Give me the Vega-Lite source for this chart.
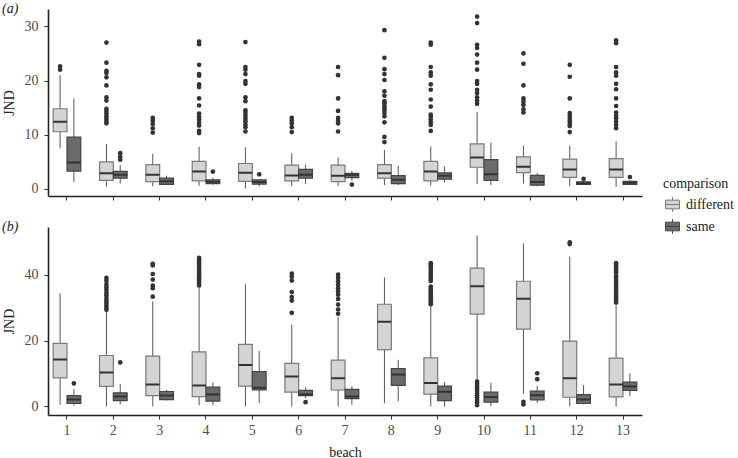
{
  "$schema": "https://vega.github.io/schema/vega-lite/v6.json",
  "padding": {"left": 2, "top": 2, "right": 0, "bottom": 0},
  "config": {
    "font": "Liberation Serif",
    "view": {"stroke": null},
    "axis": {
      "grid": false,
      "domainColor": "#222222",
      "domainWidth": 1.6,
      "tickColor": "#333333",
      "tickSize": 4,
      "labelFont": "Liberation Serif",
      "labelFontSize": 14,
      "labelColor": "#4d4d4d",
      "titleFont": "Liberation Serif",
      "titleFontSize": 14,
      "titleFontWeight": "normal",
      "titleColor": "#222222"
    },
    "legend": {
      "titleFont": "Liberation Serif",
      "titleFontSize": 14,
      "titleFontWeight": "normal",
      "titleColor": "#222222",
      "labelFont": "Liberation Serif",
      "labelFontSize": 14,
      "labelColor": "#222222"
    }
  },
  "datasets": {
    "boxes": [
      {"p":"a","beach":1,"comparison":"different","lo":7.5,"q1":10.55,"med":12.4,"q3":14.8,"hi":21.0},
      {"p":"a","beach":1,"comparison":"same","lo":1.3,"q1":3.3,"med":4.9,"q3":9.57,"hi":16.7},
      {"p":"a","beach":2,"comparison":"different","lo":0.4,"q1":1.6,"med":2.9,"q3":5.0,"hi":8.3},
      {"p":"a","beach":2,"comparison":"same","lo":1.0,"q1":2.0,"med":2.6,"q3":3.25,"hi":4.4},
      {"p":"a","beach":3,"comparison":"different","lo":0.5,"q1":1.35,"med":2.6,"q3":4.5,"hi":6.5},
      {"p":"a","beach":3,"comparison":"same","lo":0.7,"q1":0.86,"med":1.4,"q3":2.0,"hi":2.45},
      {"p":"a","beach":4,"comparison":"different","lo":0.6,"q1":1.5,"med":3.2,"q3":5.1,"hi":7.8},
      {"p":"a","beach":4,"comparison":"same","lo":0.8,"q1":1.0,"med":1.35,"q3":1.7,"hi":2.1},
      {"p":"a","beach":5,"comparison":"different","lo":0.1,"q1":1.4,"med":3.0,"q3":4.7,"hi":7.7},
      {"p":"a","beach":5,"comparison":"same","lo":0.5,"q1":0.9,"med":1.3,"q3":1.7,"hi":1.8},
      {"p":"a","beach":6,"comparison":"different","lo":0.5,"q1":1.5,"med":2.5,"q3":4.4,"hi":6.6},
      {"p":"a","beach":6,"comparison":"same","lo":0.9,"q1":2.0,"med":2.6,"q3":3.6,"hi":4.5},
      {"p":"a","beach":7,"comparison":"different","lo":0.5,"q1":1.35,"med":2.45,"q3":4.4,"hi":5.8},
      {"p":"a","beach":7,"comparison":"same","lo":1.5,"q1":2.1,"med":2.6,"q3":2.9,"hi":3.3},
      {"p":"a","beach":8,"comparison":"different","lo":0.7,"q1":2.0,"med":2.9,"q3":4.5,"hi":7.2},
      {"p":"a","beach":8,"comparison":"same","lo":0.7,"q1":1.0,"med":1.7,"q3":2.45,"hi":4.3},
      {"p":"a","beach":9,"comparison":"different","lo":0.6,"q1":1.5,"med":3.2,"q3":5.1,"hi":7.85},
      {"p":"a","beach":9,"comparison":"same","lo":1.2,"q1":1.8,"med":2.45,"q3":2.95,"hi":4.1},
      {"p":"a","beach":10,"comparison":"different","lo":0.9,"q1":4.0,"med":5.8,"q3":8.3,"hi":14.2},
      {"p":"a","beach":10,"comparison":"same","lo":0.7,"q1":1.6,"med":2.7,"q3":5.4,"hi":8.6},
      {"p":"a","beach":11,"comparison":"different","lo":1.0,"q1":3.0,"med":4.1,"q3":5.9,"hi":8.0},
      {"p":"a","beach":11,"comparison":"same","lo":0.5,"q1":0.7,"med":1.3,"q3":2.5,"hi":2.9},
      {"p":"a","beach":12,"comparison":"different","lo":0.5,"q1":2.15,"med":3.6,"q3":5.5,"hi":8.0},
      {"p":"a","beach":12,"comparison":"same","lo":0.8,"q1":0.86,"med":1.05,"q3":1.3,"hi":1.5},
      {"p":"a","beach":13,"comparison":"different","lo":0.4,"q1":2.15,"med":3.6,"q3":5.6,"hi":8.8},
      {"p":"a","beach":13,"comparison":"same","lo":0.8,"q1":0.86,"med":1.15,"q3":1.4,"hi":1.6},
      {"p":"b","beach":1,"comparison":"different","lo":0.5,"q1":8.7,"med":14.3,"q3":19.2,"hi":34.4},
      {"p":"b","beach":1,"comparison":"same","lo":0.3,"q1":0.9,"med":2.1,"q3":3.3,"hi":5.3},
      {"p":"b","beach":2,"comparison":"different","lo":0.0,"q1":6.1,"med":10.3,"q3":15.5,"hi":29.0},
      {"p":"b","beach":2,"comparison":"same","lo":0.6,"q1":1.8,"med":3.0,"q3":4.15,"hi":6.8},
      {"p":"b","beach":3,"comparison":"different","lo":0.0,"q1":3.3,"med":6.7,"q3":15.3,"hi":32.0},
      {"p":"b","beach":3,"comparison":"same","lo":1.8,"q1":2.1,"med":3.3,"q3":4.55,"hi":5.1},
      {"p":"b","beach":4,"comparison":"different","lo":0.3,"q1":3.0,"med":6.4,"q3":16.6,"hi":36.2},
      {"p":"b","beach":4,"comparison":"same","lo":0.3,"q1":1.6,"med":3.6,"q3":5.9,"hi":7.3},
      {"p":"b","beach":5,"comparison":"different","lo":0.0,"q1":6.2,"med":12.65,"q3":18.9,"hi":37.2},
      {"p":"b","beach":5,"comparison":"same","lo":1.0,"q1":5.0,"med":5.7,"q3":10.6,"hi":16.9},
      {"p":"b","beach":6,"comparison":"different","lo":0.0,"q1":4.35,"med":9.1,"q3":13.1,"hi":24.9},
      {"p":"b","beach":6,"comparison":"same","lo":2.6,"q1":3.3,"med":3.6,"q3":4.9,"hi":5.8},
      {"p":"b","beach":7,"comparison":"different","lo":0.0,"q1":5.0,"med":8.6,"q3":14.1,"hi":27.3},
      {"p":"b","beach":7,"comparison":"same","lo":0.5,"q1":2.4,"med":3.0,"q3":5.2,"hi":6.2},
      {"p":"b","beach":8,"comparison":"different","lo":1.0,"q1":17.3,"med":25.8,"q3":31.1,"hi":39.3},
      {"p":"b","beach":8,"comparison":"same","lo":1.6,"q1":6.4,"med":9.7,"q3":11.5,"hi":14.2},
      {"p":"b","beach":9,"comparison":"different","lo":0.0,"q1":3.75,"med":7.1,"q3":14.8,"hi":30.8},
      {"p":"b","beach":9,"comparison":"same","lo":0.0,"q1":1.8,"med":4.45,"q3":6.2,"hi":7.4},
      {"p":"b","beach":10,"comparison":"different","lo":7.9,"q1":28.1,"med":36.6,"q3":42.1,"hi":52.0},
      {"p":"b","beach":10,"comparison":"same","lo":0.1,"q1":1.3,"med":2.9,"q3":4.35,"hi":7.2},
      {"p":"b","beach":11,"comparison":"different","lo":3.9,"q1":23.5,"med":32.8,"q3":38.1,"hi":49.6},
      {"p":"b","beach":11,"comparison":"same","lo":1.1,"q1":2.0,"med":3.4,"q3":4.65,"hi":6.2},
      {"p":"b","beach":12,"comparison":"different","lo":0.0,"q1":2.8,"med":8.6,"q3":19.9,"hi":45.6},
      {"p":"b","beach":12,"comparison":"same","lo":0.6,"q1":0.9,"med":2.1,"q3":3.6,"hi":6.5},
      {"p":"b","beach":13,"comparison":"different","lo":0.0,"q1":2.9,"med":6.7,"q3":14.7,"hi":30.8},
      {"p":"b","beach":13,"comparison":"same","lo":3.2,"q1":4.9,"med":6.1,"q3":7.4,"hi":10.1}
    ],
    "outliers": [
      {"p":"a","beach":1,"comparison":"different","v":22.6},
      {"p":"a","beach":1,"comparison":"different","v":22.0},
      {"p":"a","beach":2,"comparison":"different","v":27.0},
      {"p":"a","beach":2,"comparison":"different","v":23.3},
      {"p":"a","beach":2,"comparison":"different","v":21.8},
      {"p":"a","beach":2,"comparison":"different","v":21.4},
      {"p":"a","beach":2,"comparison":"different","v":20.6},
      {"p":"a","beach":2,"comparison":"different","v":19.1},
      {"p":"a","beach":2,"comparison":"different","v":16.9},
      {"p":"a","beach":2,"comparison":"different","v":16.3},
      {"p":"a","beach":2,"comparison":"different","v":14.8},
      {"p":"a","beach":2,"comparison":"different","v":14.4},
      {"p":"a","beach":2,"comparison":"different","v":13.9},
      {"p":"a","beach":2,"comparison":"different","v":13.4},
      {"p":"a","beach":2,"comparison":"different","v":13.0},
      {"p":"a","beach":2,"comparison":"different","v":12.5},
      {"p":"a","beach":2,"comparison":"different","v":12.1},
      {"p":"a","beach":2,"comparison":"same","v":6.6},
      {"p":"a","beach":2,"comparison":"same","v":5.9},
      {"p":"a","beach":2,"comparison":"same","v":5.4},
      {"p":"a","beach":3,"comparison":"different","v":13.1},
      {"p":"a","beach":3,"comparison":"different","v":12.6},
      {"p":"a","beach":3,"comparison":"different","v":12.0},
      {"p":"a","beach":3,"comparison":"different","v":11.2},
      {"p":"a","beach":3,"comparison":"different","v":10.4},
      {"p":"a","beach":4,"comparison":"different","v":27.2},
      {"p":"a","beach":4,"comparison":"different","v":26.7},
      {"p":"a","beach":4,"comparison":"different","v":22.9},
      {"p":"a","beach":4,"comparison":"different","v":21.2},
      {"p":"a","beach":4,"comparison":"different","v":20.9},
      {"p":"a","beach":4,"comparison":"different","v":19.3},
      {"p":"a","beach":4,"comparison":"different","v":18.8},
      {"p":"a","beach":4,"comparison":"different","v":16.7},
      {"p":"a","beach":4,"comparison":"different","v":15.4},
      {"p":"a","beach":4,"comparison":"different","v":13.9},
      {"p":"a","beach":4,"comparison":"different","v":13.3},
      {"p":"a","beach":4,"comparison":"different","v":12.8},
      {"p":"a","beach":4,"comparison":"different","v":12.2},
      {"p":"a","beach":4,"comparison":"different","v":11.7},
      {"p":"a","beach":4,"comparison":"different","v":10.7},
      {"p":"a","beach":4,"comparison":"different","v":10.3},
      {"p":"a","beach":4,"comparison":"same","v":3.2},
      {"p":"a","beach":5,"comparison":"different","v":27.1},
      {"p":"a","beach":5,"comparison":"different","v":22.5},
      {"p":"a","beach":5,"comparison":"different","v":22.0},
      {"p":"a","beach":5,"comparison":"different","v":21.2},
      {"p":"a","beach":5,"comparison":"different","v":19.9},
      {"p":"a","beach":5,"comparison":"different","v":19.4},
      {"p":"a","beach":5,"comparison":"different","v":16.9},
      {"p":"a","beach":5,"comparison":"different","v":16.2},
      {"p":"a","beach":5,"comparison":"different","v":14.5},
      {"p":"a","beach":5,"comparison":"different","v":14.0},
      {"p":"a","beach":5,"comparison":"different","v":13.5},
      {"p":"a","beach":5,"comparison":"different","v":13.0},
      {"p":"a","beach":5,"comparison":"different","v":12.5},
      {"p":"a","beach":5,"comparison":"different","v":11.9},
      {"p":"a","beach":5,"comparison":"different","v":11.4},
      {"p":"a","beach":5,"comparison":"different","v":10.6},
      {"p":"a","beach":5,"comparison":"same","v":2.7},
      {"p":"a","beach":6,"comparison":"different","v":13.1},
      {"p":"a","beach":6,"comparison":"different","v":12.6},
      {"p":"a","beach":6,"comparison":"different","v":12.1},
      {"p":"a","beach":6,"comparison":"different","v":11.4},
      {"p":"a","beach":6,"comparison":"different","v":10.5},
      {"p":"a","beach":7,"comparison":"different","v":22.5},
      {"p":"a","beach":7,"comparison":"different","v":21.0},
      {"p":"a","beach":7,"comparison":"different","v":16.7},
      {"p":"a","beach":7,"comparison":"different","v":14.4},
      {"p":"a","beach":7,"comparison":"different","v":13.1},
      {"p":"a","beach":7,"comparison":"different","v":12.6},
      {"p":"a","beach":7,"comparison":"different","v":12.1},
      {"p":"a","beach":7,"comparison":"different","v":10.6},
      {"p":"a","beach":7,"comparison":"same","v":0.8},
      {"p":"a","beach":8,"comparison":"different","v":29.3},
      {"p":"a","beach":8,"comparison":"different","v":24.2},
      {"p":"a","beach":8,"comparison":"different","v":22.1},
      {"p":"a","beach":8,"comparison":"different","v":21.2},
      {"p":"a","beach":8,"comparison":"different","v":20.1},
      {"p":"a","beach":8,"comparison":"different","v":18.0},
      {"p":"a","beach":8,"comparison":"different","v":17.2},
      {"p":"a","beach":8,"comparison":"different","v":16.2},
      {"p":"a","beach":8,"comparison":"different","v":15.8},
      {"p":"a","beach":8,"comparison":"different","v":15.3},
      {"p":"a","beach":8,"comparison":"different","v":15.0},
      {"p":"a","beach":8,"comparison":"different","v":14.5},
      {"p":"a","beach":8,"comparison":"different","v":14.0},
      {"p":"a","beach":8,"comparison":"different","v":13.4},
      {"p":"a","beach":8,"comparison":"different","v":12.3},
      {"p":"a","beach":8,"comparison":"different","v":9.6},
      {"p":"a","beach":8,"comparison":"different","v":8.65},
      {"p":"a","beach":9,"comparison":"different","v":27.0},
      {"p":"a","beach":9,"comparison":"different","v":26.6},
      {"p":"a","beach":9,"comparison":"different","v":22.5},
      {"p":"a","beach":9,"comparison":"different","v":21.5},
      {"p":"a","beach":9,"comparison":"different","v":20.9},
      {"p":"a","beach":9,"comparison":"different","v":19.3},
      {"p":"a","beach":9,"comparison":"different","v":18.3},
      {"p":"a","beach":9,"comparison":"different","v":16.5},
      {"p":"a","beach":9,"comparison":"different","v":15.2},
      {"p":"a","beach":9,"comparison":"different","v":13.7},
      {"p":"a","beach":9,"comparison":"different","v":13.3},
      {"p":"a","beach":9,"comparison":"different","v":12.8},
      {"p":"a","beach":9,"comparison":"different","v":12.3},
      {"p":"a","beach":9,"comparison":"different","v":11.8},
      {"p":"a","beach":9,"comparison":"different","v":10.7},
      {"p":"a","beach":10,"comparison":"different","v":31.8},
      {"p":"a","beach":10,"comparison":"different","v":30.6},
      {"p":"a","beach":10,"comparison":"different","v":26.6},
      {"p":"a","beach":10,"comparison":"different","v":26.0},
      {"p":"a","beach":10,"comparison":"different","v":24.8},
      {"p":"a","beach":10,"comparison":"different","v":23.3},
      {"p":"a","beach":10,"comparison":"different","v":22.0},
      {"p":"a","beach":10,"comparison":"different","v":19.9},
      {"p":"a","beach":10,"comparison":"different","v":19.4},
      {"p":"a","beach":10,"comparison":"different","v":18.3},
      {"p":"a","beach":10,"comparison":"different","v":17.7},
      {"p":"a","beach":10,"comparison":"different","v":16.9},
      {"p":"a","beach":10,"comparison":"different","v":16.3},
      {"p":"a","beach":10,"comparison":"different","v":15.7},
      {"p":"a","beach":11,"comparison":"different","v":25.0},
      {"p":"a","beach":11,"comparison":"different","v":23.1},
      {"p":"a","beach":11,"comparison":"different","v":19.1},
      {"p":"a","beach":11,"comparison":"different","v":16.7},
      {"p":"a","beach":11,"comparison":"different","v":16.1},
      {"p":"a","beach":11,"comparison":"different","v":15.5},
      {"p":"a","beach":11,"comparison":"different","v":14.7},
      {"p":"a","beach":11,"comparison":"different","v":14.1},
      {"p":"a","beach":12,"comparison":"different","v":22.9},
      {"p":"a","beach":12,"comparison":"different","v":20.7},
      {"p":"a","beach":12,"comparison":"different","v":16.7},
      {"p":"a","beach":12,"comparison":"different","v":14.0},
      {"p":"a","beach":12,"comparison":"different","v":13.5},
      {"p":"a","beach":12,"comparison":"different","v":13.0},
      {"p":"a","beach":12,"comparison":"different","v":12.5},
      {"p":"a","beach":12,"comparison":"different","v":12.0},
      {"p":"a","beach":12,"comparison":"different","v":11.6},
      {"p":"a","beach":12,"comparison":"different","v":10.5},
      {"p":"a","beach":12,"comparison":"same","v":1.85},
      {"p":"a","beach":13,"comparison":"different","v":27.4},
      {"p":"a","beach":13,"comparison":"different","v":26.9},
      {"p":"a","beach":13,"comparison":"different","v":22.5},
      {"p":"a","beach":13,"comparison":"different","v":21.5},
      {"p":"a","beach":13,"comparison":"different","v":20.9},
      {"p":"a","beach":13,"comparison":"different","v":19.4},
      {"p":"a","beach":13,"comparison":"different","v":18.4},
      {"p":"a","beach":13,"comparison":"different","v":16.7},
      {"p":"a","beach":13,"comparison":"different","v":15.3},
      {"p":"a","beach":13,"comparison":"different","v":14.1},
      {"p":"a","beach":13,"comparison":"different","v":13.5},
      {"p":"a","beach":13,"comparison":"different","v":13.0},
      {"p":"a","beach":13,"comparison":"different","v":12.4},
      {"p":"a","beach":13,"comparison":"different","v":11.8},
      {"p":"a","beach":13,"comparison":"different","v":11.2},
      {"p":"a","beach":13,"comparison":"same","v":2.2},
      {"p":"b","beach":1,"comparison":"same","v":7.0},
      {"p":"b","beach":2,"comparison":"different","v":39.1},
      {"p":"b","beach":2,"comparison":"different","v":38.2},
      {"p":"b","beach":2,"comparison":"different","v":37.1},
      {"p":"b","beach":2,"comparison":"different","v":36.3},
      {"p":"b","beach":2,"comparison":"different","v":35.5},
      {"p":"b","beach":2,"comparison":"different","v":34.6},
      {"p":"b","beach":2,"comparison":"different","v":33.8},
      {"p":"b","beach":2,"comparison":"different","v":33.0},
      {"p":"b","beach":2,"comparison":"different","v":32.2},
      {"p":"b","beach":2,"comparison":"different","v":31.5},
      {"p":"b","beach":2,"comparison":"different","v":30.7},
      {"p":"b","beach":2,"comparison":"different","v":30.0},
      {"p":"b","beach":2,"comparison":"different","v":29.4},
      {"p":"b","beach":2,"comparison":"same","v":13.4},
      {"p":"b","beach":3,"comparison":"different","v":43.4},
      {"p":"b","beach":3,"comparison":"different","v":42.9},
      {"p":"b","beach":3,"comparison":"different","v":40.3},
      {"p":"b","beach":3,"comparison":"different","v":38.6},
      {"p":"b","beach":3,"comparison":"different","v":36.8},
      {"p":"b","beach":3,"comparison":"different","v":36.0},
      {"p":"b","beach":3,"comparison":"different","v":33.4},
      {"p":"b","beach":4,"comparison":"different","v":45.2},
      {"p":"b","beach":4,"comparison":"different","v":44.6},
      {"p":"b","beach":4,"comparison":"different","v":44.0},
      {"p":"b","beach":4,"comparison":"different","v":43.4},
      {"p":"b","beach":4,"comparison":"different","v":42.8},
      {"p":"b","beach":4,"comparison":"different","v":42.2},
      {"p":"b","beach":4,"comparison":"different","v":41.6},
      {"p":"b","beach":4,"comparison":"different","v":41.0},
      {"p":"b","beach":4,"comparison":"different","v":40.4},
      {"p":"b","beach":4,"comparison":"different","v":39.8},
      {"p":"b","beach":4,"comparison":"different","v":39.2},
      {"p":"b","beach":4,"comparison":"different","v":38.6},
      {"p":"b","beach":4,"comparison":"different","v":38.0},
      {"p":"b","beach":4,"comparison":"different","v":37.4},
      {"p":"b","beach":4,"comparison":"different","v":36.8},
      {"p":"b","beach":6,"comparison":"different","v":40.4},
      {"p":"b","beach":6,"comparison":"different","v":39.5},
      {"p":"b","beach":6,"comparison":"different","v":38.3},
      {"p":"b","beach":6,"comparison":"different","v":34.8},
      {"p":"b","beach":6,"comparison":"different","v":33.3},
      {"p":"b","beach":6,"comparison":"different","v":32.2},
      {"p":"b","beach":6,"comparison":"different","v":28.5},
      {"p":"b","beach":6,"comparison":"same","v":1.3},
      {"p":"b","beach":7,"comparison":"different","v":40.1},
      {"p":"b","beach":7,"comparison":"different","v":39.1},
      {"p":"b","beach":7,"comparison":"different","v":38.1},
      {"p":"b","beach":7,"comparison":"different","v":37.0},
      {"p":"b","beach":7,"comparison":"different","v":36.0},
      {"p":"b","beach":7,"comparison":"different","v":35.0},
      {"p":"b","beach":7,"comparison":"different","v":34.0},
      {"p":"b","beach":7,"comparison":"different","v":32.7},
      {"p":"b","beach":7,"comparison":"different","v":31.0},
      {"p":"b","beach":7,"comparison":"different","v":29.5},
      {"p":"b","beach":7,"comparison":"different","v":28.2},
      {"p":"b","beach":9,"comparison":"different","v":43.6},
      {"p":"b","beach":9,"comparison":"different","v":43.0},
      {"p":"b","beach":9,"comparison":"different","v":42.4},
      {"p":"b","beach":9,"comparison":"different","v":41.8},
      {"p":"b","beach":9,"comparison":"different","v":41.2},
      {"p":"b","beach":9,"comparison":"different","v":40.6},
      {"p":"b","beach":9,"comparison":"different","v":40.0},
      {"p":"b","beach":9,"comparison":"different","v":39.4},
      {"p":"b","beach":9,"comparison":"different","v":38.8},
      {"p":"b","beach":9,"comparison":"different","v":38.2},
      {"p":"b","beach":9,"comparison":"different","v":36.5},
      {"p":"b","beach":9,"comparison":"different","v":35.9},
      {"p":"b","beach":9,"comparison":"different","v":35.3},
      {"p":"b","beach":9,"comparison":"different","v":34.7},
      {"p":"b","beach":9,"comparison":"different","v":34.1},
      {"p":"b","beach":9,"comparison":"different","v":33.5},
      {"p":"b","beach":9,"comparison":"different","v":32.9},
      {"p":"b","beach":9,"comparison":"different","v":32.3},
      {"p":"b","beach":9,"comparison":"different","v":31.7},
      {"p":"b","beach":9,"comparison":"different","v":31.1},
      {"p":"b","beach":10,"comparison":"different","v":7.6},
      {"p":"b","beach":10,"comparison":"different","v":6.9},
      {"p":"b","beach":10,"comparison":"different","v":6.2},
      {"p":"b","beach":10,"comparison":"different","v":5.5},
      {"p":"b","beach":10,"comparison":"different","v":4.8},
      {"p":"b","beach":10,"comparison":"different","v":4.1},
      {"p":"b","beach":10,"comparison":"different","v":3.4},
      {"p":"b","beach":10,"comparison":"different","v":2.7},
      {"p":"b","beach":10,"comparison":"different","v":2.0},
      {"p":"b","beach":10,"comparison":"different","v":1.3},
      {"p":"b","beach":10,"comparison":"different","v":0.4},
      {"p":"b","beach":11,"comparison":"different","v":1.4},
      {"p":"b","beach":11,"comparison":"different","v":0.6},
      {"p":"b","beach":11,"comparison":"same","v":10.1},
      {"p":"b","beach":11,"comparison":"same","v":8.3},
      {"p":"b","beach":12,"comparison":"different","v":49.9},
      {"p":"b","beach":12,"comparison":"different","v":49.4},
      {"p":"b","beach":13,"comparison":"different","v":43.6},
      {"p":"b","beach":13,"comparison":"different","v":43.0},
      {"p":"b","beach":13,"comparison":"different","v":42.4},
      {"p":"b","beach":13,"comparison":"different","v":41.8},
      {"p":"b","beach":13,"comparison":"different","v":41.2},
      {"p":"b","beach":13,"comparison":"different","v":40.6},
      {"p":"b","beach":13,"comparison":"different","v":39.6},
      {"p":"b","beach":13,"comparison":"different","v":38.8},
      {"p":"b","beach":13,"comparison":"different","v":38.2},
      {"p":"b","beach":13,"comparison":"different","v":37.6},
      {"p":"b","beach":13,"comparison":"different","v":37.0},
      {"p":"b","beach":13,"comparison":"different","v":36.4},
      {"p":"b","beach":13,"comparison":"different","v":35.8},
      {"p":"b","beach":13,"comparison":"different","v":35.2},
      {"p":"b","beach":13,"comparison":"different","v":34.6},
      {"p":"b","beach":13,"comparison":"different","v":34.0},
      {"p":"b","beach":13,"comparison":"different","v":33.4},
      {"p":"b","beach":13,"comparison":"different","v":32.8},
      {"p":"b","beach":13,"comparison":"different","v":32.2},
      {"p":"b","beach":13,"comparison":"different","v":31.6}
    ]
  },
  "spacing": 19,
  "resolve": {"scale": {"y": "independent"}},
  "vconcat": [
    {
      "width": 594,
      "height": 187,
      "title": {"text": "(a)", "anchor": "start", "frame": "group", "dx": -46, "offset": -7, "font": "Liberation Serif", "fontSize": 14, "fontStyle": "italic", "fontWeight": "normal", "color": "#222222"},
      "encoding": {
        "x": {"field": "beach", "type": "ordinal", "scale": {"paddingInner": 0.18, "paddingOuter": 0}, "axis": {"labels": false, "title": null, "labelAngle": 0}},
        "xOffset": {"field": "comparison", "type": "nominal", "scale": {"paddingInner": 0, "paddingOuter": 0.377}}
      },
      "layer": [
        {
          "data": {"name": "boxes"},
          "transform": [{"filter": "datum.p === 'a'"}],
          "mark": {"type": "rule", "color": "#555555", "strokeWidth": 1},
          "encoding": {
            "y": {"field": "lo", "type": "quantitative", "scale": {"domain": [-1.3, 33.2], "nice": false, "zero": false}, "axis": {"values": [0, 10, 20, 30], "title": "JND", "labelPadding": 6, "titlePadding": 8}},
            "y2": {"field": "hi"}
          }
        },
        {
          "data": {"name": "boxes"},
          "transform": [{"filter": "datum.p === 'a'"}],
          "mark": {"type": "bar", "strokeWidth": 1.2, "opacity": 1},
          "encoding": {
            "y": {"field": "q1", "type": "quantitative"},
            "y2": {"field": "q3"},
            "fill": {"field": "comparison", "type": "nominal", "scale": {"domain": ["different", "same"], "range": ["#d4d4d4", "#6b6b6b"]}, "legend": {"title": "comparison", "orient": "none", "legendX": 615, "legendY": 168, "symbolType": "M-0.8,-0.5H0.8V0.5H-0.8Z M-0.8,0H0.8 M0,-0.5V-0.85 M0,0.5V0.85", "symbolSize": 300, "symbolStrokeWidth": 1, "rowPadding": 3, "titlePadding": 4}},
            "stroke": {"field": "comparison", "type": "nominal", "scale": {"domain": ["different", "same"], "range": ["#7a7a7a", "#444444"]}, "legend": {"title": "comparison", "orient": "none", "legendX": 615, "legendY": 168, "symbolType": "M-0.8,-0.5H0.8V0.5H-0.8Z M-0.8,0H0.8 M0,-0.5V-0.85 M0,0.5V0.85", "symbolSize": 300, "symbolStrokeWidth": 1, "rowPadding": 3, "titlePadding": 4}}
          }
        },
        {
          "data": {"name": "boxes"},
          "transform": [{"filter": "datum.p === 'a'"}],
          "mark": {"type": "bar", "fill": null, "stroke": "#333333", "strokeWidth": 2},
          "encoding": {
            "y": {"field": "med", "type": "quantitative"},
            "y2": {"field": "med"}
          }
        },
        {
          "data": {"name": "outliers"},
          "transform": [{"filter": "datum.p === 'a'"}],
          "mark": {"type": "point", "filled": true, "color": "#333333", "size": 22, "opacity": 1, "shape": "circle"},
          "encoding": {
            "y": {"field": "v", "type": "quantitative"}
          }
        }
      ]
    },
    {
      "width": 594,
      "height": 188,
      "title": {"text": "(b)", "anchor": "start", "frame": "group", "dx": -46, "offset": -7, "font": "Liberation Serif", "fontSize": 14, "fontStyle": "italic", "fontWeight": "normal", "color": "#222222"},
      "encoding": {
        "x": {"field": "beach", "type": "ordinal", "scale": {"paddingInner": 0.18, "paddingOuter": 0}, "axis": {"title": "beach", "labelAngle": 0, "labelPadding": 4, "titlePadding": 8}},
        "xOffset": {"field": "comparison", "type": "nominal", "scale": {"paddingInner": 0, "paddingOuter": 0.377}}
      },
      "layer": [
        {
          "data": {"name": "boxes"},
          "transform": [{"filter": "datum.p === 'b'"}],
          "mark": {"type": "rule", "color": "#555555", "strokeWidth": 1},
          "encoding": {
            "y": {"field": "lo", "type": "quantitative", "scale": {"domain": [-2.6, 54.6], "nice": false, "zero": false}, "axis": {"values": [0, 10, 20, 30, 40, 50], "title": "JND", "labelPadding": 6, "titlePadding": 8}},
            "y2": {"field": "hi"}
          }
        },
        {
          "data": {"name": "boxes"},
          "transform": [{"filter": "datum.p === 'b'"}],
          "mark": {"type": "bar", "strokeWidth": 1.2, "opacity": 1},
          "encoding": {
            "y": {"field": "q1", "type": "quantitative"},
            "y2": {"field": "q3"},
            "fill": {"field": "comparison", "type": "nominal"},
            "stroke": {"field": "comparison", "type": "nominal"}
          }
        },
        {
          "data": {"name": "boxes"},
          "transform": [{"filter": "datum.p === 'b'"}],
          "mark": {"type": "bar", "fill": null, "stroke": "#333333", "strokeWidth": 2},
          "encoding": {
            "y": {"field": "med", "type": "quantitative"},
            "y2": {"field": "med"}
          }
        },
        {
          "data": {"name": "outliers"},
          "transform": [{"filter": "datum.p === 'b'"}],
          "mark": {"type": "point", "filled": true, "color": "#333333", "size": 22, "opacity": 1, "shape": "circle"},
          "encoding": {
            "y": {"field": "v", "type": "quantitative"}
          }
        }
      ]
    }
  ]
}
